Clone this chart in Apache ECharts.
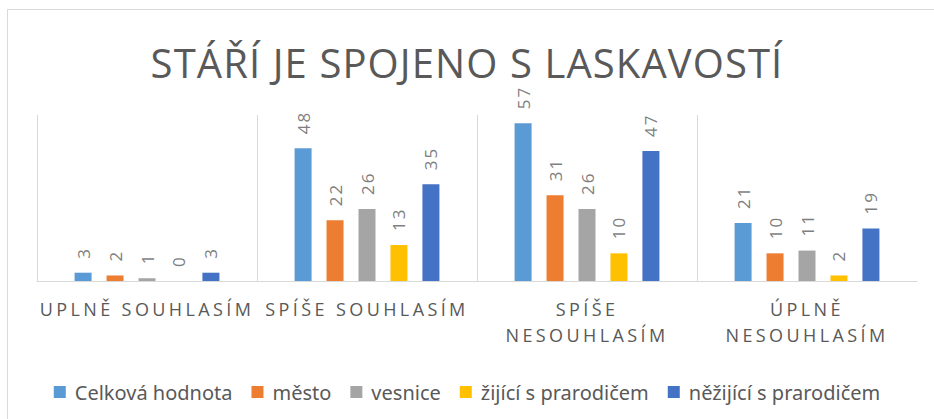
<!DOCTYPE html>
<html>
<head>
    <meta charset="utf-8">
    <title>stari</title>
    <script src="https://cdn.jsdelivr.net/npm/echarts@6/dist/echarts.min.js"></script>
    <style>
        body { margin: 0; background: #fff; }
        /* Excel-style letter spacing on title, axis labels and data labels */
        #chart text[style*="40px"] { letter-spacing: 1.1px; }
        #chart text[style*="18px"] { letter-spacing: 3.4px; }
        #chart text[style*="17px"] { letter-spacing: 2px; }
    </style>
</head>
<body>
    <div id="chart" style="width: 934px;height:419px;"></div>
    <script type="text/javascript">
        var categories = ['UPLNĚ SOUHLASÍM', 'SPÍŠE SOUHLASÍM', 'SPÍŠE\nNESOUHLASÍM', 'ÚPLNĚ\nNESOUHLASÍM'];
        var seriesNames = ['Celková hodnota', 'město', 'vesnice', 'žijící s prarodičem', 'něžijící s prarodičem'];
        var celkova = [3, 48, 57, 21];
        var mesto = [2, 22, 31, 10];
        var vesnice = [1, 26, 26, 11];
        var zijici = [0, 13, 10, 2];
        var nezijici = [3, 35, 47, 19];
        var colors = ['#5B9BD5', '#ED7D31', '#A5A5A5', '#FFC000', '#4472C4'];

        var values = [celkova, mesto, vesnice, zijici, nezijici];
        var series = [];
        for (var i = 0; i < seriesNames.length; i++) {
            series.push({
                name: seriesNames[i],
                type: 'bar',
                data: values[i],
                barWidth: 17,
                barGap: '88%',
                itemStyle: { color: colors[i] },
                label: {
                    show: true,
                    position: 'top',
                    rotate: 90,
                    align: 'left',
                    verticalAlign: 'middle',
                    distance: 14,
                    color: '#7f7f7f',
                    fontSize: 17,
                    fontFamily: 'Open Sans'
                }
            });
        }

        var myChart = echarts.init(document.getElementById('chart'), null, { renderer: 'svg' });
        var option = {
            animation: false,
            color: colors,
            title: {
                text: 'STÁŘÍ JE SPOJENO S LASKAVOSTÍ',
                left: 'center',
                top: 35,
                textStyle: {
                    fontSize: 40,
                    fontWeight: 'normal',
                    fontFamily: 'Open Sans',
                    color: '#595959',
                    lineHeight: 44
                }
            },
            graphic: [{
                type: 'rect',
                shape: { x: 7.5, y: 9.5, width: 1000, height: 500 },
                style: { fill: 'none', stroke: '#d9d9d9', lineWidth: 1 },
                silent: true
            }],
            legend: {
                data: seriesNames,
                left: 'center',
                top: 376,
                icon: 'rect',
                itemWidth: 12,
                itemHeight: 12,
                itemGap: 19,
                textStyle: {
                    fontSize: 20,
                    fontFamily: 'Noto Sans',
                    color: '#595959',
                    lineHeight: 22,
                    padding: [0, 0, 0, 4]
                }
            },
            grid: { left: 37, right: 17, top: 115, bottom: 138 },
            xAxis: {
                type: 'category',
                data: categories,
                axisTick: { show: false },
                axisLine: { lineStyle: { color: '#d9d9d9', width: 1 } },
                splitLine: { show: true, showMaxLine: false, lineStyle: { color: '#d9d9d9', width: 1 } },
                axisLabel: {
                    interval: 0,
                    margin: 15,
                    fontSize: 18,
                    fontFamily: 'Open Sans',
                    color: '#595959',
                    lineHeight: 26
                }
            },
            yAxis: {
                type: 'value',
                min: 0,
                max: 60,
                show: false
            },
            series: series
        };
        myChart.setOption(option);
    </script>
</body>
</html>
